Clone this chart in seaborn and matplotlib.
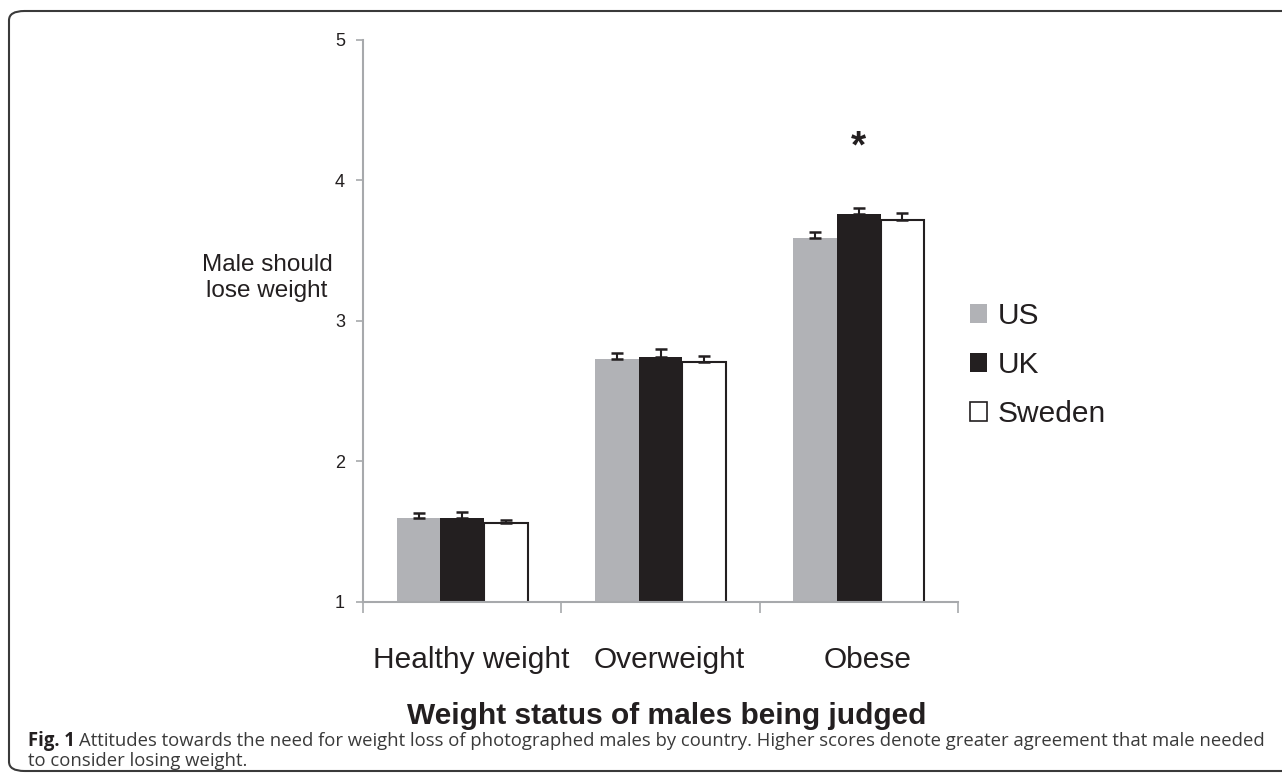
import numpy as np
import pandas as pd
import matplotlib
matplotlib.use('Agg')
import matplotlib.pyplot as plt
from matplotlib.patches import FancyBboxPatch, Patch
from matplotlib.transforms import ScaledTranslation
import seaborn as sns

# data
categories = ['Healthy weight', 'Overweight', 'Obese']
countries = ['US', 'UK', 'Sweden']
us_means = [1.60, 2.73, 3.59]
uk_means = [1.60, 2.74, 3.76]
sweden_means = [1.56, 2.71, 3.72]
us_err = [0.03, 0.04, 0.04]
uk_err = [0.04, 0.06, 0.045]
sweden_err = [0.02, 0.04, 0.045]
y_ticks = [1, 2, 3, 4, 5]

df = pd.DataFrame({
    'status': categories * 3,
    'country': np.repeat(countries, len(categories)),
    'score': us_means + uk_means + sweden_means,
    'err': us_err + uk_err + sweden_err,
})

GREY = '#b1b2b6'
DARK = '#231f20'
AXIS = '#a7a9ac'
palette = {'US': GREY, 'UK': DARK, 'Sweden': 'white'}

sns.set_style('ticks')
plt.rcParams['font.family'] = ['Liberation Sans', 'DejaVu Sans']

fig = plt.figure(figsize=(12.82, 7.76), dpi=100)
W, H = 1282, 776
ax = fig.add_axes([363 / W, 1 - 602 / H, (958 - 363) / W, (602 - 39.5) / H])

sns.barplot(data=df, x='status', y='score', hue='country', order=categories,
            hue_order=countries, palette=palette, width=0.66, errorbar=None,
            saturation=1, legend=False, ax=ax)

bar_conts = list(ax.containers)
for i, cont in enumerate(bar_conts):
    sub = df[df['country'] == countries[i]].set_index('status').loc[categories]
    xs = [b.get_x() + b.get_width() / 2 for b in cont]
    for b in cont:
        if countries[i] == 'Sweden':
            b.set_edgecolor(DARK)
            b.set_linewidth(1.5)
        else:
            b.set_edgecolor('none')
    ax.errorbar(xs, sub['score'], yerr=[np.zeros(len(xs)), sub['err']],
                fmt='none', ecolor=DARK, elinewidth=1.5, capsize=4,
                capthick=1.8, zorder=5)

ax.set_ylim(1, 5)
ax.set_xlim(-0.5, 2.5)
ax.set_yticks(y_ticks)
ax.set_xlabel('')
ax.set_ylabel('')
sns.despine(ax=ax)
for s in ['left', 'bottom']:
    ax.spines[s].set_color(AXIS)
    ax.spines[s].set_linewidth(1.5)
ax.tick_params(axis='y', length=5, width=1.2, color=AXIS, labelcolor=DARK,
               labelsize=13, pad=8)
ax.tick_params(axis='x', which='major', length=0, labelcolor=DARK,
               labelsize=21.5, pad=32)
ax.set_xticks([-0.5, 0.5, 1.5, 2.5], minor=True)
ax.tick_params(axis='x', which='minor', length=8, width=1.2, color=AXIS)
for lab in ax.get_xticklabels():
    lab.set_transform(lab.get_transform() + ScaledTranslation(9 / 100, 0, fig.dpi_scale_trans))

# significance marker above UK obese bar
uk_obese = bar_conts[1][2]
ax.text(uk_obese.get_x() + uk_obese.get_width() / 2, 4.16, '*', ha='center',
        va='baseline', fontsize=28, fontweight='bold', color=DARK)

fig.text(267 / W, 1 - 278 / H, 'Male should\nlose weight', ha='center',
         va='center', multialignment='center', fontsize=17.5, color=DARK,
         linespacing=1.2)

fig.text(667 / W, 1 - 716 / H, 'Weight status of males being judged',
         ha='center', va='center', fontsize=21.5, fontweight='bold', color=DARK)

handles = [Patch(facecolor=palette[c], edgecolor=DARK if c == 'Sweden' else 'none',
                 linewidth=1.2, label=c) for c in countries]
fig.legend(handles=handles, loc='center left', bbox_to_anchor=(955 / W, 1 - 365 / H),
           frameon=False, fontsize=21.5, handlelength=0.57, handleheight=0.57,
           handletextpad=0.37, labelspacing=0.7, borderpad=0, labelcolor=DARK)

# caption, font size fitted so the first line ends where the reference wraps
cap_font = ['Open Sans', 'DejaVu Sans']
cap_x, cap_right = 28, 1271
line1 = ('Attitudes towards the need for weight loss of photographed males by country. '
         'Higher scores denote greater agreement that male needed')
line2 = 'to consider losing weight.'
size = 14.5
t1 = fig.text(cap_x / W, 1 - 741 / H, 'Fig. 1', ha='left', va='center',
              fontsize=size, fontweight='bold', family=cap_font, color=DARK)
t2 = fig.text(0, 1 - 741 / H, line1, ha='left', va='center', fontsize=size,
              family=cap_font, color='#3a3a3a')
renderer = fig.canvas.get_renderer()
for _ in range(3):
    b1 = t1.get_window_extent(renderer)
    t2.set_x((b1.x1 + 0.3 * size) / W)
    b2 = t2.get_window_extent(renderer)
    size = size * (cap_right - cap_x) / (b2.x1 - cap_x)
    t1.set_fontsize(size)
    t2.set_fontsize(size)
b1 = t1.get_window_extent(renderer)
t2.set_x((b1.x1 + 0.3 * size) / W)
fig.text(cap_x / W, 1 - 761 / H, line2, ha='left', va='center',
         fontsize=size, family=cap_font, color='#3a3a3a')

border = FancyBboxPatch((9 / W, 5 / H), 1.2, (771 - 11) / H,
                        boxstyle='round,pad=0,rounding_size=0.012',
                        transform=fig.transFigure, fill=False,
                        edgecolor='#3a3a3a', linewidth=1.5, clip_on=False)
fig.patches.append(border)

fig.savefig('out.png', dpi=100)
